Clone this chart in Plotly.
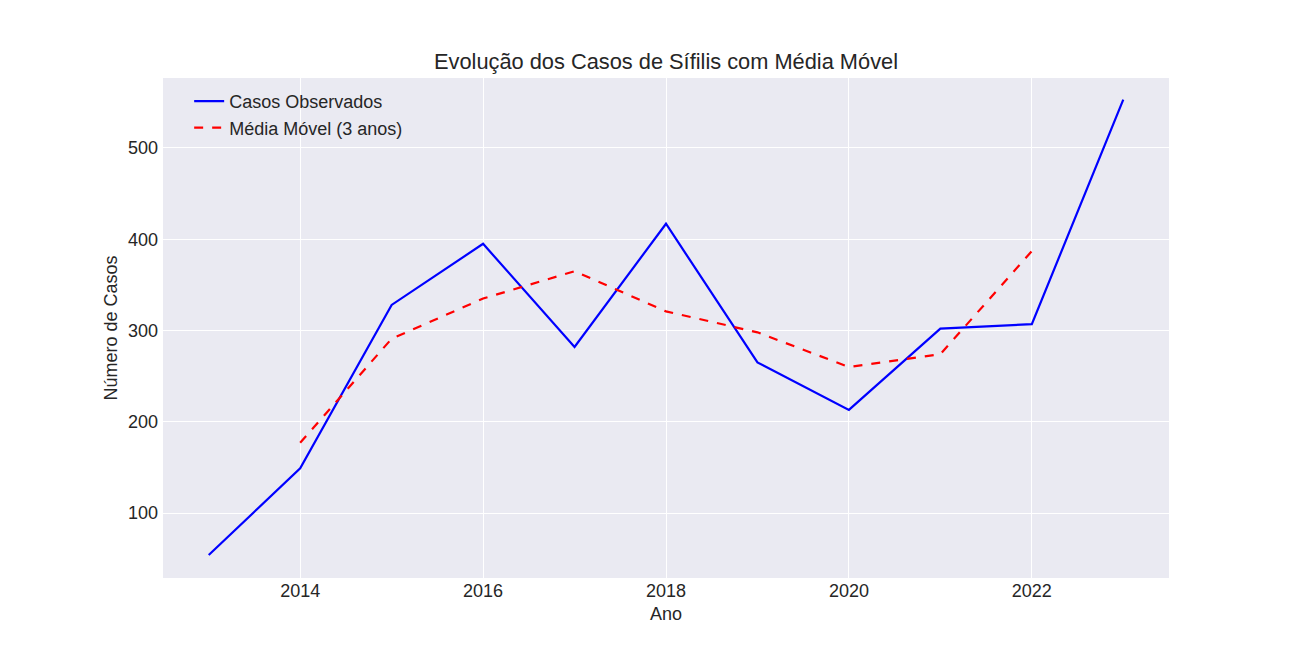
import plotly.graph_objects as go

anos = [2013, 2014, 2015, 2016, 2017, 2018, 2019, 2020, 2021, 2022, 2023]
casos = [54, 149, 328, 395, 282, 417, 265, 213, 302, 307, 553]
anos_media = [2014, 2015, 2016, 2017, 2018, 2019, 2020, 2021, 2022]
media_movel = [177, 291, 335, 365, 321, 298, 260, 274, 387]

FONT = "Liberation Sans, Arial, sans-serif"
fig = go.Figure()
fig.add_trace(go.Scatter(x=anos, y=casos, mode="lines", name="Casos Observados",
                         line=dict(color="#0000ff", width=2.2)))
fig.add_trace(go.Scatter(x=anos_media, y=media_movel, mode="lines", name="Média Móvel (3 anos)",
                         line=dict(color="#ff0000", width=2.2, dash="dash")))

fig.update_layout(
    width=1300, height=650,
    paper_bgcolor="white", plot_bgcolor="#eaeaf2",
    margin=dict(l=155, r=139, t=70, b=80),
    font=dict(family=FONT, size=18, color="#262626"),
    title=dict(text="Evolução dos Casos de Sífilis com Média Móvel", x=0.5, xanchor="center", xref="paper",
               y=1 - 53/650, yanchor="middle", font=dict(size=21.8, color="#262626")),
    showlegend=True,
    legend=dict(x=0.026, y=0.99, xanchor="left", yanchor="top", bgcolor="rgba(0,0,0,0)",
                font=dict(size=18), tracegroupgap=0),
    xaxis=dict(title=dict(text="Ano", font=dict(size=18), standoff=7), range=[2012.5, 2023.5],
               tickvals=[2014, 2016, 2018, 2020, 2022], showgrid=True, gridcolor="white", gridwidth=1.2,
               zeroline=False, ticks="", showline=False),
    yaxis=dict(title=dict(text="Número de Casos", font=dict(size=18), standoff=5), range=[28.8, 576.7],
               tickvals=[100, 200, 300, 400, 500], showgrid=True, gridcolor="white", gridwidth=1.2,
               zeroline=False, ticks="", showline=False, ticklabelstandoff=4),
)
fig.write_html("out.html")
